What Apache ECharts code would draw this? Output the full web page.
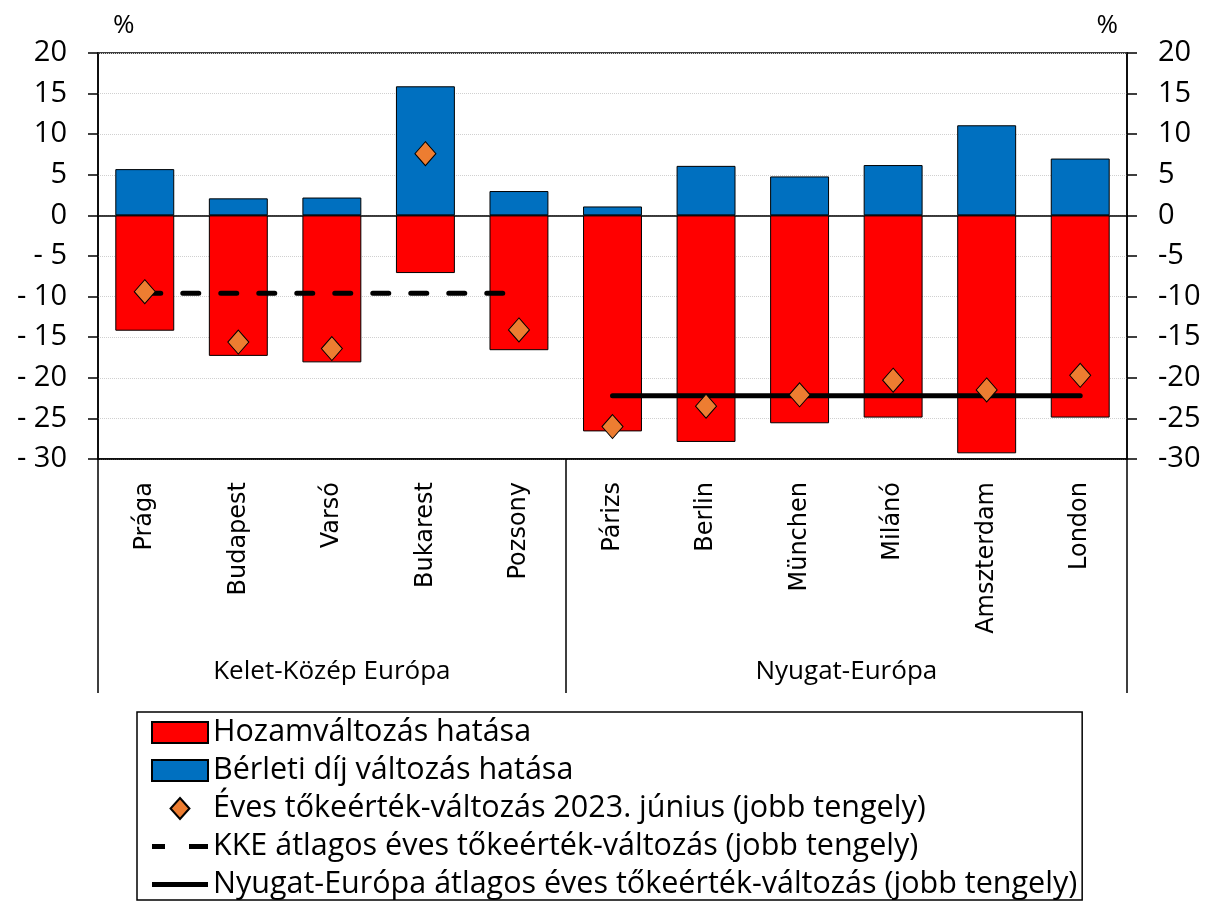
<!DOCTYPE html>
<html>
<head>
<meta charset="utf-8">
<script src="https://cdn.jsdelivr.net/npm/echarts@6/dist/echarts.min.js"></script>
<style>
  html, body { margin: 0; padding: 0; background: #fff; }
  #chart { width: 1207px; height: 906px; }
</style>
</head>
<body>
<div id="chart"></div>
<script>
// városok
const cities = ['Prága', 'Budapest', 'Varsó', 'Bukarest', 'Pozsony', 'Párizs', 'Berlin', 'München', 'Milánó', 'Amszterdam', 'London'];
// Hozamváltozás hatása (piros)
const hozam = [-14.2, -17.3, -18.1, -7.1, -16.6, -26.6, -27.9, -25.6, -24.9, -29.3, -24.9];
// Bérleti díj változás hatása (kék)
const berleti = [5.7, 2.1, 2.2, 15.9, 3.0, 1.1, 6.1, 4.8, 6.2, 11.1, 7.0];
// Éves tőkeérték-változás (rombusz)
const eves = [-9.4, -15.6, -16.4, 7.6, -14.1, -26.0, -23.5, -22.1, -20.3, -21.5, -19.7];
// régiók
const groupNames = ['Kelet-Közép Európa', 'Nyugat-Európa'];
const groupSizes = [5, 6];
const groupAvg = [-9.6, -22.2];
// tengely
const yMin = -30, yMax = 20, yStep = 5;

const FONT = 'Open Sans';

// csoport határok és középpontok
let groupTicks = [0];
let groupCenters = [];
groupSizes.forEach((n, i) => {
  let start = groupTicks[groupTicks.length - 1];
  groupCenters.push(start + n / 2);
  groupTicks.push(start + n);
});

// átlag vonalak adatai
function avgLine(gi) {
  let start = groupTicks[gi], end = groupTicks[gi + 1];
  return cities.map((c, i) => (i >= start && i < end) ? groupAvg[gi] : '-');
}

const names = {
  hozam: 'Hozamváltozás hatása',
  berleti: 'Bérleti díj változás hatása',
  eves: 'Éves tőkeérték-változás 2023. június (jobb tengely)',
  kke: 'KKE átlagos éves tőkeérték-változás (jobb tengely)',
  nyugat: 'Nyugat-Európa átlagos éves tőkeérték-változás (jobb tengely)'
};

const chart = echarts.init(document.getElementById('chart'));

const option = {
  backgroundColor: '#ffffff',
  animation: false,
  grid: {
    left: 98, right: 80, top: 53, bottom: 447,
    show: true, borderColor: '#000', borderWidth: 1.5, backgroundColor: 'transparent'
  },
  legend: {
    orient: 'vertical',
    left: 137, top: 712,
    padding: [5, 5, 0, 14],
    borderColor: '#000', borderWidth: 1.5,
    itemWidth: 56, itemHeight: 21, itemGap: 7,
    symbolKeepAspect: true,
    textStyle: { fontFamily: FONT, fontSize: 30.5, color: '#000' },
    data: [
      { name: names.hozam, icon: 'rect' },
      { name: names.berleti, icon: 'rect' },
      { name: names.eves, icon: 'path://M9,0L18,10L9,20L0,10Z' },
      { name: names.kke, icon: 'path://M0,0h13v5h-13z M37,0h19v5h-19z' },
      { name: names.nyugat, icon: 'path://M0,0h56v5h-56z' }
    ]
  },
  xAxis: [
    {
      type: 'category', data: cities, position: 'bottom',
      axisLine: { onZero: false, lineStyle: { color: '#000', width: 1.5 } },
      axisTick: { length: 176, lineStyle: { color: '#333', width: 1 } },
      axisLabel: { rotate: 90, margin: 23, fontFamily: 'DejaVu Sans', fontSize: 24, color: '#000' },
      splitLine: { show: false }
    },
    {
      // nulla vonal
      type: 'category', data: cities, position: 'bottom',
      axisLine: { onZero: true, lineStyle: { color: '#000', width: 1.5 } },
      axisTick: { length: 7, lineStyle: { color: '#000', width: 1.5 } },
      axisLabel: { show: false },
      splitLine: { show: false }
    },
    {
      // régió címkék
      type: 'value', min: 0, max: cities.length, position: 'bottom',
      axisLine: { show: false, onZero: false },
      axisTick: { show: true, customValues: groupTicks, length: 234, lineStyle: { color: '#000', width: 1.5 } },
      axisLabel: {
        customValues: groupCenters, margin: 200,
        fontFamily: FONT, fontSize: 26, color: '#000',
        formatter: v => {
          let idx = groupCenters.indexOf(v);
          return idx >= 0 ? groupNames[idx] : '';
        }
      },
      splitLine: { show: false }
    }
  ],
  yAxis: [
    {
      type: 'value', min: yMin, max: yMax, interval: yStep,
      name: '%', nameLocation: 'end', nameGap: 14,
      nameTextStyle: { fontFamily: FONT, fontSize: 26, color: '#000', align: 'left', padding: [0, 0, 0, 15] },
      axisLine: { show: true, lineStyle: { color: '#000', width: 1.5 } },
      axisTick: { show: true, length: 10, lineStyle: { color: '#000', width: 1.5 } },
      axisLabel: {
        margin: 31, fontFamily: FONT, fontSize: 29, color: '#000',
        formatter: v => v < 0 ? '- ' + Math.abs(v) : String(v)
      },
      splitLine: { show: true, lineStyle: { color: '#d0d0d0', type: 'dotted', width: 1 } }
    },
    {
      type: 'value', min: yMin, max: yMax, interval: yStep, position: 'right',
      name: '%', nameLocation: 'end', nameGap: 14,
      nameTextStyle: { fontFamily: FONT, fontSize: 26, color: '#000', align: 'right', padding: [0, 9, 0, 0] },
      axisLine: { show: true, lineStyle: { color: '#000', width: 1.5 } },
      axisTick: { show: true, length: 10, lineStyle: { color: '#000', width: 1.5 } },
      axisLabel: { margin: 31, fontFamily: FONT, fontSize: 29, color: '#000' },
      splitLine: { show: false }
    }
  ],
  series: [
    {
      name: names.hozam, type: 'bar', stack: 'hatas',
      xAxisIndex: 0, yAxisIndex: 0, barWidth: '63%',
      itemStyle: { color: '#FF0000', borderColor: '#000', borderWidth: 1 },
      data: hozam
    },
    {
      name: names.berleti, type: 'bar', stack: 'hatas',
      xAxisIndex: 0, yAxisIndex: 0, barWidth: '63%',
      itemStyle: { color: '#0070C0', borderColor: '#000', borderWidth: 1 },
      data: berleti
    },
    {
      name: names.kke, type: 'line',
      xAxisIndex: 0, yAxisIndex: 1, symbol: 'none', z: 3,
      lineStyle: { color: '#000', width: 5, type: [16, 22], cap: 'round' },
      itemStyle: { color: '#000', borderWidth: 0 },
      data: avgLine(0)
    },
    {
      name: names.nyugat, type: 'line',
      xAxisIndex: 0, yAxisIndex: 1, symbol: 'none', z: 3,
      lineStyle: { color: '#000', width: 5, cap: 'round' },
      itemStyle: { color: '#000', borderWidth: 0 },
      data: avgLine(1)
    },
    {
      name: names.eves, type: 'scatter',
      xAxisIndex: 0, yAxisIndex: 1, symbol: 'diamond', symbolSize: [21, 24], z: 5,
      itemStyle: { color: '#ED7D31', borderColor: '#000', borderWidth: 1, opacity: 1 },
      data: eves
    }
  ]
};

chart.setOption(option);
</script>
</body>
</html>
